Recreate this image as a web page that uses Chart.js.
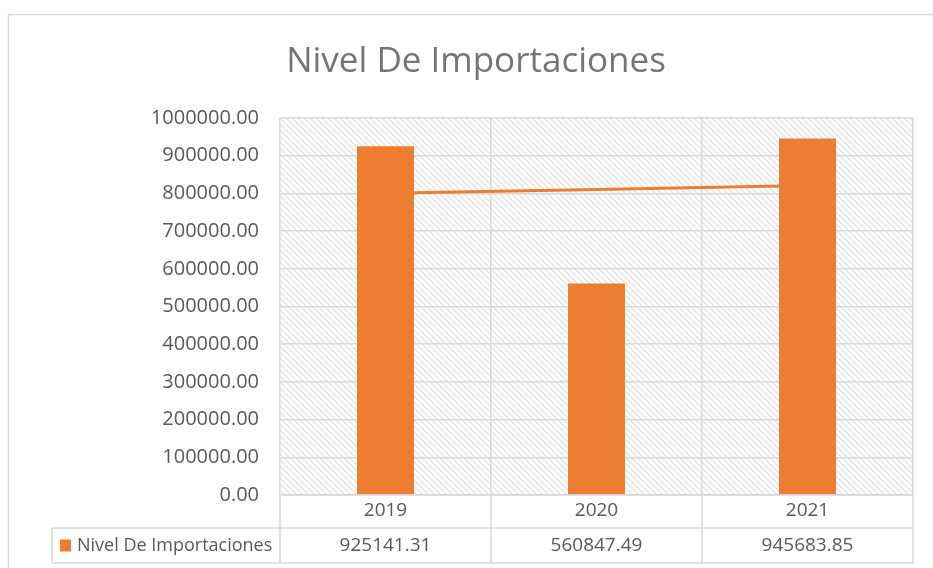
<!DOCTYPE html>
<html>
<head>
<meta charset="utf-8">
<script src="https://cdn.jsdelivr.net/npm/chart.js@4/dist/chart.umd.min.js"></script>
<style>
  html, body { margin: 0; padding: 0; background: #ffffff; }
  #wrap { position: relative; width: 933px; height: 568px; }
</style>
</head>
<body>
<div id="wrap"><canvas id="importChart" width="933" height="568"></canvas></div>
<script>
// Chart data
const years = ["2019", "2020", "2021"];
const importValues = [925141.31, 560847.49, 945683.85];
const trendValues = [800286, 810557, 820828];
const seriesName = "Nivel De Importaciones";

const ORANGE = "#ED7D31";
const GRID = "#d9d9d9";
const TEXT = "#595959";
const FONT = "'Open Sans', 'Noto Sans', sans-serif";

// Diagonal hatch used as plot background
function makeHatch(ctx) {
  const tile = document.createElement("canvas");
  tile.width = 6;
  tile.height = 6;
  const t = tile.getContext("2d");
  t.fillStyle = "#ffffff";
  t.fillRect(0, 0, 6, 6);
  t.strokeStyle = "#e2e2e2";
  t.lineWidth = 1.3;
  t.beginPath();
  t.moveTo(-1, -1);
  t.lineTo(7, 7);
  t.moveTo(-4, 2);
  t.lineTo(4, 10);
  t.moveTo(2, -4);
  t.lineTo(10, 4);
  t.stroke();
  return ctx.createPattern(tile, "repeat");
}

const backgroundPlugin = {
  id: "excelBackground",
  beforeDraw(chart) {
    const ctx = chart.ctx;
    const a = chart.chartArea;
    ctx.save();
    ctx.fillStyle = "#ffffff";
    ctx.fillRect(0, 0, chart.width, chart.height);
    // outer chart border
    ctx.strokeStyle = GRID;
    ctx.lineWidth = 1.5;
    ctx.beginPath();
    ctx.moveTo(8.5, chart.height);
    ctx.lineTo(8.5, 14.5);
    ctx.lineTo(chart.width, 14.5);
    ctx.stroke();
    // hatched plot area
    ctx.fillStyle = makeHatch(ctx);
    ctx.fillRect(a.left, a.top, a.right - a.left, a.bottom - a.top);
    ctx.restore();
  },
};

// Data table under the plot
const dataTablePlugin = {
  id: "dataTable",
  afterDraw(chart) {
    const ctx = chart.ctx;
    const a = chart.chartArea;
    const x = chart.scales.x;
    const row1 = a.bottom;
    const row2 = 528;
    const row3 = 563;
    const tableLeft = 52;
    const step = x.getPixelForValue(1) - x.getPixelForValue(0);
    const edges = [a.left];
    years.forEach((y, i) => {
      edges.push(x.getPixelForValue(i) + step / 2);
    });

    ctx.save();
    ctx.strokeStyle = GRID;
    ctx.lineWidth = 1.5;
    ctx.beginPath();
    ctx.moveTo(a.left, row1);
    ctx.lineTo(a.right, row1);
    ctx.moveTo(tableLeft, row2);
    ctx.lineTo(a.right, row2);
    ctx.moveTo(tableLeft, row3);
    ctx.lineTo(a.right, row3);
    ctx.moveTo(tableLeft, row2);
    ctx.lineTo(tableLeft, row3);
    edges.forEach((e) => {
      ctx.moveTo(e, row1);
      ctx.lineTo(e, row3);
    });
    ctx.stroke();

    const midY = (row2 + row3) / 2;
    // legend key
    ctx.fillStyle = ORANGE;
    ctx.fillRect(60, midY - 6, 11, 12);
    ctx.fillStyle = TEXT;
    ctx.font = "18px " + FONT;
    ctx.textBaseline = "middle";
    ctx.textAlign = "left";
    ctx.fillText(seriesName, 77, midY);
    ctx.font = "19px " + FONT;
    ctx.textAlign = "center";
    importValues.forEach((v, i) => {
      ctx.fillText(v.toFixed(2), x.getPixelForValue(i), midY);
    });
    ctx.restore();
  },
};

const ctx = document.getElementById("importChart").getContext("2d");

new Chart(ctx, {
  type: "bar",
  data: {
    labels: years,
    datasets: [
      {
        label: seriesName,
        data: importValues,
        backgroundColor: ORANGE,
        borderWidth: 0,
        barPercentage: 0.27,
        categoryPercentage: 1,
        order: 1,
      },
      {
        type: "line",
        label: "Lineal (" + seriesName + ")",
        data: trendValues,
        borderColor: ORANGE,
        borderWidth: 3,
        pointRadius: 0,
        tension: 0,
        fill: false,
        order: 2,
      },
    ],
  },
  options: {
    responsive: false,
    animation: false,
    layout: {
      padding: { top: 0, right: 20, bottom: 0, left: 39 },
    },
    plugins: {
      legend: { display: false },
      tooltip: { enabled: false },
      title: {
        display: true,
        text: seriesName,
        color: "#757575",
        font: { family: FONT, size: 35, weight: "normal" },
        padding: { top: 41, bottom: 35 },
      },
    },
    scales: {
      x: {
        offset: true,
        grid: {
          offset: true,
          color: GRID,
          lineWidth: 1.5,
          drawTicks: false,
        },
        border: { display: false },
        ticks: {
          color: TEXT,
          font: { family: FONT, size: 19 },
          padding: 4,
        },
        afterFit: function (scale) {
          scale.height = 73;
        },
      },
      y: {
        min: 0,
        max: 1000000,
        grid: {
          color: GRID,
          lineWidth: 1.5,
          drawTicks: false,
        },
        border: { display: false },
        ticks: {
          stepSize: 100000,
          color: TEXT,
          font: { family: FONT, size: 20 },
          padding: 21,
          callback: function (value) {
            return value.toFixed(2);
          },
        },
        afterFit: function (scale) {
          scale.width = 241;
        },
      },
    },
  },
  plugins: [backgroundPlugin, dataTablePlugin],
});
</script>
</body>
</html>
